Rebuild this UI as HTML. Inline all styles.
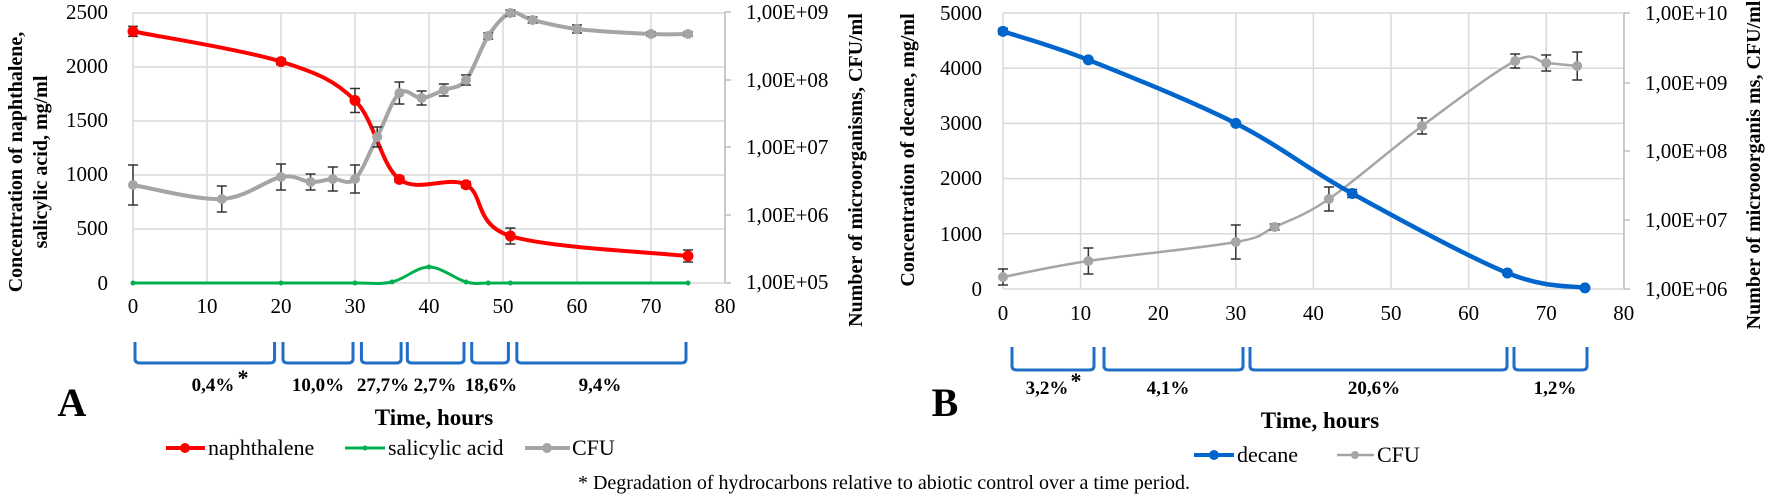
<!DOCTYPE html>
<html><head><meta charset="utf-8"><style>
html,body{margin:0;padding:0;background:#fff;}
svg{display:block;font-family:"Liberation Serif","Times New Roman",serif;}
text{font-family:"Liberation Serif","Times New Roman",serif;fill:#000;}
</style></head><body>
<svg id="s" width="1770" height="501" viewBox="0 0 1770 501" xmlns="http://www.w3.org/2000/svg" font-family="Liberation Serif, serif">
<g id="g"></g>
<g font-size="21">
<text x="108" y="19" text-anchor="end">2500</text>
<text x="108" y="73" text-anchor="end">2000</text>
<text x="108" y="127" text-anchor="end">1500</text>
<text x="108" y="181" text-anchor="end">1000</text>
<text x="108" y="235" text-anchor="end">500</text>
<text x="108" y="290" text-anchor="end">0</text>
<text x="746" y="19">1,00E+09</text>
<text x="746" y="87">1,00E+08</text>
<text x="746" y="154">1,00E+07</text>
<text x="746" y="222">1,00E+06</text>
<text x="746" y="289">1,00E+05</text>
</g>
<g font-size="21" text-anchor="middle" id="tA"></g>
<text transform="translate(22,162) rotate(-90)" font-size="20" font-weight="bold" text-anchor="middle">Concentration  of naphthalene,</text>
<text transform="translate(47,162) rotate(-90)" font-size="20" font-weight="bold" text-anchor="middle">salicylic acid, mg/ml</text>
<text transform="translate(862,170) rotate(-90)" font-size="20" font-weight="bold" text-anchor="middle">Number of microorganisms, CFU/ml</text>
<g font-size="19" font-weight="bold" text-anchor="middle">
<text x="213" y="391">0,4%</text><text x="243" y="385" font-size="22">*</text>
<text x="318" y="391">10,0%</text>
<text x="383" y="391">27,7%</text>
<text x="435" y="391">2,7%</text>
<text x="491" y="391">18,6%</text>
<text x="600" y="391">9,4%</text>
</g>
<text x="72" y="416" font-size="40" font-weight="bold" text-anchor="middle">A</text>
<text x="434" y="425" font-size="23" font-weight="bold" text-anchor="middle">Time, hours</text>
<g font-size="22">
<line x1="166" y1="448" x2="205" y2="448" stroke="#ff0000" stroke-width="4"/><circle cx="185" cy="448" r="5" fill="#ff0000"/>
<text x="208" y="455">naphthalene</text>
<line x1="345" y1="448" x2="385" y2="448" stroke="#00b050" stroke-width="3"/><circle cx="365" cy="448" r="2.5" fill="#00b050"/>
<text x="388" y="455">salicylic acid</text>
<line x1="525" y1="448" x2="570" y2="448" stroke="#a5a5a5" stroke-width="4"/><circle cx="547" cy="448" r="5" fill="#a5a5a5"/>
<text x="572" y="455">CFU</text>
</g>
<g font-size="21">
<text x="982" y="20" text-anchor="end">5000</text>
<text x="982" y="75" text-anchor="end">4000</text>
<text x="982" y="130" text-anchor="end">3000</text>
<text x="982" y="185" text-anchor="end">2000</text>
<text x="982" y="241" text-anchor="end">1000</text>
<text x="982" y="296" text-anchor="end">0</text>
<text x="1645" y="20">1,00E+10</text>
<text x="1645" y="90">1,00E+09</text>
<text x="1645" y="158">1,00E+08</text>
<text x="1645" y="227">1,00E+07</text>
<text x="1645" y="296">1,00E+06</text>
</g>
<g font-size="21" text-anchor="middle" id="tB"></g>
<text transform="translate(914,150) rotate(-90)" font-size="20" font-weight="bold" text-anchor="middle">Concentration  of decane,  mg/ml</text>
<text transform="translate(1760,165) rotate(-90)" font-size="20" font-weight="bold" text-anchor="middle">Number of microoorganis ms,  CFU/ml</text>
<g font-size="19" font-weight="bold" text-anchor="middle">
<text x="1047" y="394">3,2%</text><text x="1076" y="388" font-size="22">*</text>
<text x="1168" y="394">4,1%</text>
<text x="1374" y="394">20,6%</text>
<text x="1555" y="394">1,2%</text>
</g>
<text x="945" y="416" font-size="40" font-weight="bold" text-anchor="middle">B</text>
<text x="1320" y="428" font-size="23" font-weight="bold" text-anchor="middle">Time, hours</text>
<g font-size="22">
<line x1="1194" y1="455" x2="1234" y2="455" stroke="#0066cc" stroke-width="4"/><circle cx="1214" cy="455" r="5" fill="#0066cc"/>
<text x="1237" y="462">decane</text>
<line x1="1337" y1="455" x2="1374" y2="455" stroke="#a5a5a5" stroke-width="2.5"/><circle cx="1355" cy="455" r="4" fill="#a5a5a5"/>
<text x="1377" y="462">CFU</text>
</g>
<text x="884" y="489" font-size="20" text-anchor="middle">* Degradation of hydrocarbons relative to abiotic control over a time period.</text>
</svg>
<script>
(function(){
var NS="http://www.w3.org/2000/svg",g=document.getElementById('g');
function el(n,a,p){var e=document.createElementNS(NS,n);for(var k in a)e.setAttribute(k,a[k]);(p||g).appendChild(e);return e;}
function cr(pts){var d="M"+pts[0][0]+","+pts[0][1];for(var i=0;i<pts.length-1;i++){var p0=pts[i-1]||pts[i],p1=pts[i],p2=pts[i+1],p3=pts[i+2]||p2;var t=6;
d+=" C"+(p1[0]+(p2[0]-p0[0])/t)+","+(p1[1]+(p2[1]-p0[1])/t)+" "+(p2[0]-(p3[0]-p1[0])/t)+","+(p2[1]-(p3[1]-p1[1])/t)+" "+p2[0]+","+p2[1];}return d;}
function eb(x,y,h){el('line',{x1:x,y1:y-h,x2:x,y2:y+h,stroke:'#333','stroke-width':1.5});el('line',{x1:x-5,y1:y-h,x2:x+5,y2:y-h,stroke:'#333','stroke-width':1.5});el('line',{x1:x-5,y1:y+h,x2:x+5,y2:y+h,stroke:'#333','stroke-width':1.5});}
function brk(x1,x2,yt,yb){el('path',{d:"M"+(x1+2)+","+yt+" L"+(x1+2)+","+(yb-4)+" Q"+(x1+2)+","+yb+" "+(x1+7)+","+yb+" L"+(x2-7)+","+yb+" Q"+(x2-2)+","+yb+" "+(x2-2)+","+(yb-4)+" L"+(x2-2)+","+yt,fill:'none',stroke:'#1f6fc6','stroke-width':3});}
var xA=function(t){return 133+7.4*t},yA=function(v){return 283-v*0.108};
for(var i=0;i<=8;i++)el('line',{x1:xA(i*10),y1:12,x2:xA(i*10),y2:283,stroke:'#d9d9d9','stroke-width':1.5});
for(var i=0;i<=5;i++)el('line',{x1:133,y1:yA(i*500),x2:725,y2:yA(i*500),stroke:'#d9d9d9','stroke-width':1.5});
el('line',{x1:725,y1:12,x2:725,y2:283,stroke:'#bfbfbf','stroke-width':1.5});
[12,80,147,215,283].forEach(function(y){el('line',{x1:725,y1:y,x2:731,y2:y,stroke:'#bfbfbf','stroke-width':1.5});});
var tA=document.getElementById('tA');for(var i=0;i<=8;i++){var t=el('text',{x:xA(i*10),y:313},tA);t.textContent=i*10;}
var sal=[[0,283],[20,283],[30,283],[35,282],[40,267],[45,282],[48,283],[51,283],[75,283]].map(function(p){return[xA(p[0]),p[1]]});
el('path',{d:cr(sal),fill:'none',stroke:'#00b050','stroke-width':3});
sal.forEach(function(p){el('circle',{cx:p[0],cy:p[1],r:2.5,fill:'#00b050'});});
var nap=[[0,2330,5],[20,2050,3],[30,1690,12],[36,960,3],[45,910,3],[51,435,8],[75,250,6]];
var np=nap.map(function(p){return[xA(p[0]),yA(p[1])]});
el('path',{d:cr(np),fill:'none',stroke:'#ff0000','stroke-width':4});
nap.forEach(function(p,i){eb(np[i][0],np[i][1],p[2]);el('circle',{cx:np[i][0],cy:np[i][1],r:5.5,fill:'#ff0000'});});
var cfu=[[0,185,20],[12,199,13],[20,177,13],[24,182,8],[27,179,12],[30,179,14],[33,137,10],[36,93,11],[39,98,7],[42,90,6],[45,80,5],[48,36,3],[51,13,3],[54,20,3],[60,29,4],[70,34,2],[75,34,2]];
var cp=cfu.map(function(p){return[xA(p[0]),p[1]]});
el('path',{d:cr(cp),fill:'none',stroke:'#a5a5a5','stroke-width':4});
cfu.forEach(function(p,i){eb(cp[i][0],cp[i][1],p[2]);el('circle',{cx:cp[i][0],cy:cp[i][1],r:5,fill:'#a5a5a5'});});
[[0,19.4],[20,30],[30.6,36.5],[36.8,45],[45.5,51],[51.6,75]].forEach(function(b){brk(xA(b[0]),xA(b[1]),342,363);});
var xB=function(t){return 1003+7.76*t},yB=function(v){return 289-v*0.0552};
for(var i=0;i<=8;i++)el('line',{x1:xB(i*10),y1:13,x2:xB(i*10),y2:289,stroke:'#d9d9d9','stroke-width':1.5});
for(var i=0;i<=5;i++)el('line',{x1:1003,y1:yB(i*1000),x2:1624,y2:yB(i*1000),stroke:'#d9d9d9','stroke-width':1.5});
el('line',{x1:1624,y1:13,x2:1624,y2:289,stroke:'#bfbfbf','stroke-width':1.5});
[13,83,151,220,289].forEach(function(y){el('line',{x1:1624,y1:y,x2:1630,y2:y,stroke:'#bfbfbf','stroke-width':1.5});});
var tB=document.getElementById('tB');for(var i=0;i<=8;i++){var t=el('text',{x:xB(i*10),y:320},tB);t.textContent=i*10;}
var cb=[[0,277,8],[11,261,13],[30,242,17],[35,227,3],[42,199,12],[54,126,8],[66,61,7],[70,63,8],[74,66,14]];
var cbp=cb.map(function(p){return[xB(p[0]),p[1]]});
el('path',{d:cr(cbp),fill:'none',stroke:'#a5a5a5','stroke-width':2.5});
cb.forEach(function(p,i){eb(cbp[i][0],cbp[i][1],p[2]);el('circle',{cx:cbp[i][0],cy:cbp[i][1],r:5,fill:'#a5a5a5'});});
var dec=[[0,4667,3],[11,4150,2],[30,3000,2],[45,1730,4],[65,290,2],[75,20,1]];
var dp=dec.map(function(p){return[xB(p[0]),yB(p[1])]});
el('path',{d:cr(dp),fill:'none',stroke:'#0066cc','stroke-width':4.5});
dec.forEach(function(p,i){eb(dp[i][0],dp[i][1],p[2]);el('circle',{cx:dp[i][0],cy:dp[i][1],r:5.5,fill:'#0066cc'});});
[[1010,1096],[1102,1245],[1248,1509],[1512,1589]].forEach(function(b){brk(b[0],b[1],347,370);});
})();
</script>
</body></html>
